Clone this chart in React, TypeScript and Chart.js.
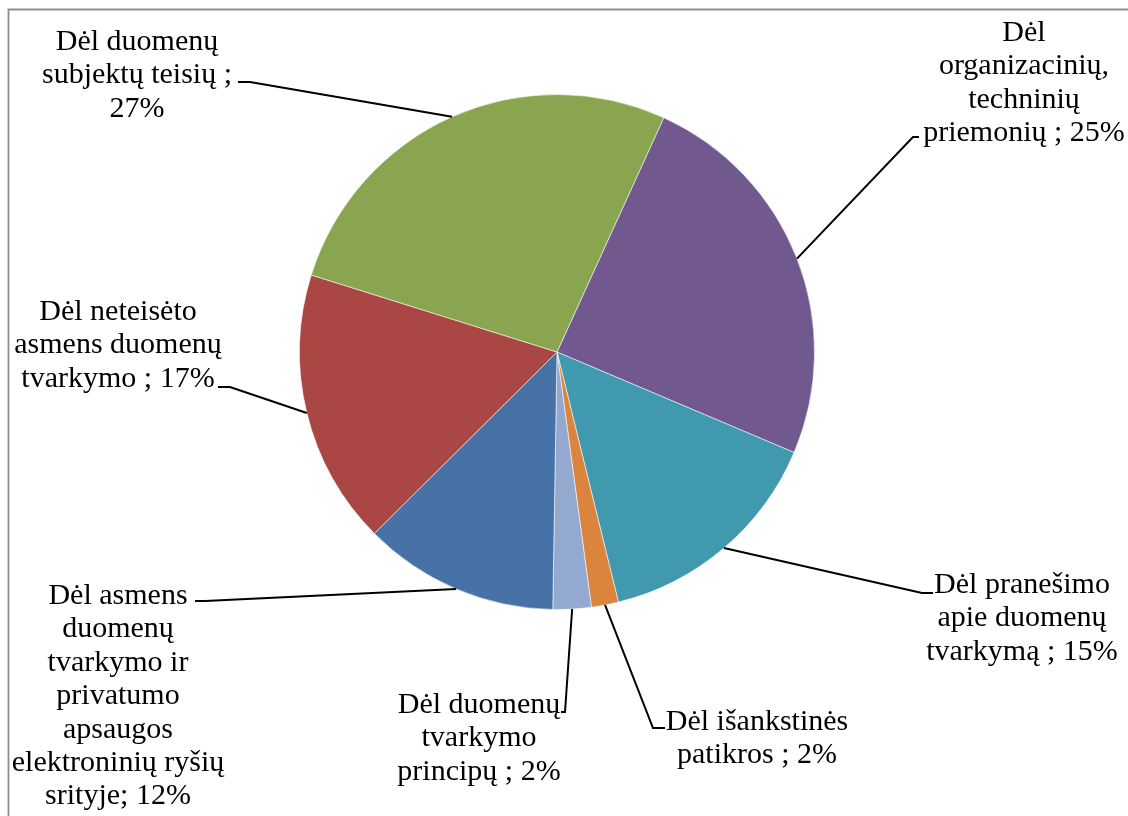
import React, { useEffect, useRef } from "react";
import { Chart, registerables } from "chart.js";

Chart.register(...registerables);

// ---- data ----
const categories: string[][] = [
  ["Dėl", "organizacinių,", "techninių", "priemonių ;"],
  ["Dėl pranešimo", "apie duomenų", "tvarkymą ;"],
  ["Dėl išankstinės", "patikros ;"],
  ["Dėl duomenų", "tvarkymo", "principų ;"],
  ["Dėl asmens", "duomenų", "tvarkymo ir", "privatumo", "apsaugos", "elektroninių ryšių", "srityje;"],
  ["Dėl neteisėto", "asmens duomenų", "tvarkymo ;"],
  ["Dėl duomenų", "subjektų teisių ;", ""],
];
const values: number[] = [24.6, 14.8, 1.7, 2.4, 12.3, 17.3, 27.0];
const colors: string[] = ["#71598F", "#4199B0", "#DB843D", "#93A9CF", "#4672A7", "#AA4744", "#89A54F"];

// ---- label layout (text centre x, first baseline y, elbow of leader, end of leader) ----
const labelLayout = [
  { cx: 1024, y0: 41, ex: 913, ey: 137, tx: 919 },
  { cx: 1022, y0: 593, ex: 922, ey: 593, tx: 933 },
  { cx: 757, y0: 730, ex: 653, ey: 728, tx: 665 },
  { cx: 479, y0: 713, ex: 565, ey: 712, tx: 561 },
  { cx: 118, y0: 604, ex: 205, ey: 601, tx: 195 },
  { cx: 118, y0: 320, ex: 230, ey: 387, tx: 218 },
  { cx: 137, y0: 50, ex: 250, ey: 82, tx: 238 },
];

const FONT = '30px "Liberation Serif", "Times New Roman", serif';
const LINE_H = 33.4;

const labelPlugin = {
  id: "outLabels",
  beforeDraw(chart: any) {
    const ctx = chart.ctx;
    ctx.save();
    ctx.strokeStyle = "#8e8e8e";
    ctx.lineWidth = 1.8;
    ctx.beginPath();
    ctx.moveTo(8.5, 900);
    ctx.lineTo(8.5, 9.5);
    ctx.lineTo(1200, 9.5);
    ctx.stroke();
    ctx.restore();
  },
  afterDraw(chart: any) {
    const ctx = chart.ctx;
    const meta = chart.getDatasetMeta(0);
    const total = values.reduce((a, b) => a + b, 0);
    ctx.save();
    meta.data.forEach((arc: any, i: number) => {
      const { x, y, startAngle, endAngle, outerRadius } = arc.getProps(
        ["x", "y", "startAngle", "endAngle", "outerRadius"],
        true
      );
      const mid = (startAngle + endAngle) / 2;
      const px = x + Math.cos(mid) * outerRadius;
      const py = y + Math.sin(mid) * outerRadius;
      const L = labelLayout[i];
      ctx.strokeStyle = "#000";
      ctx.lineWidth = 2;
      ctx.beginPath();
      ctx.moveTo(px, py);
      ctx.lineTo(L.ex, L.ey);
      ctx.lineTo(L.tx, L.ey);
      ctx.stroke();

      const pct = Math.round((values[i] / total) * 100) + "%";
      const lines = categories[i].slice();
      const last = lines.length - 1;
      lines[last] = lines[last] === "" ? pct : lines[last] + " " + pct;
      ctx.fillStyle = "#000";
      ctx.font = FONT;
      ctx.textAlign = "center";
      ctx.textBaseline = "alphabetic";
      lines.forEach((t, k) => {
        ctx.fillText(t, L.cx, L.y0 + k * LINE_H);
      });
    });
    ctx.restore();
  },
};

export default function App() {
  const ref = useRef<HTMLCanvasElement | null>(null);
  useEffect(() => {
    if (!ref.current) return;
    const chart = new Chart(ref.current, {
      type: "pie",
      data: {
        labels: categories.map((c) => c.join(" ")),
        datasets: [
          {
            data: values,
            backgroundColor: colors,
            borderColor: "rgba(255,255,255,0.55)",
            borderWidth: 1,
          },
        ],
      },
      options: {
        responsive: false,
        animation: false,
        rotation: 24.5,
        layout: { padding: { left: 299, right: 313, top: 94, bottom: 206 } },
        plugins: {
          legend: { display: false },
          tooltip: { enabled: false },
          title: { display: false },
        },
      },
      plugins: [labelPlugin],
    });
    return () => chart.destroy();
  }, []);
  return (
    <div style={{ position: "fixed", left: 0, top: 0, width: 1128, height: 816, background: "#fff" }}>
      <canvas ref={ref} width={1128} height={816} style={{ width: 1128, height: 816 }} />
    </div>
  );
}
